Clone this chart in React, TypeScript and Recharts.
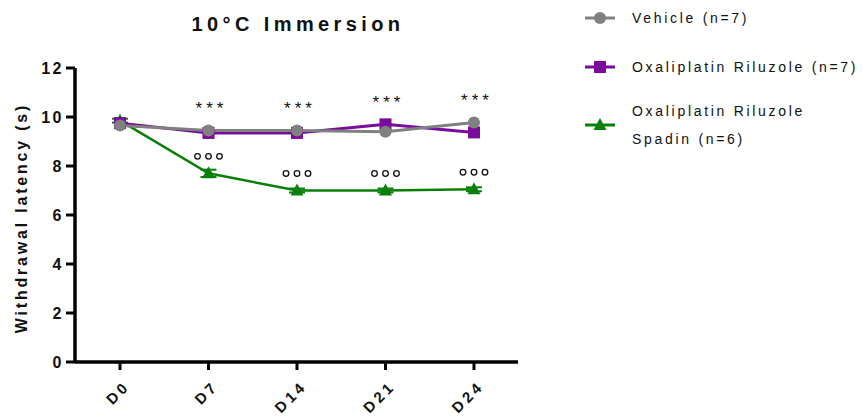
import React from 'react';
import { LineChart, Line, XAxis, YAxis, ErrorBar } from 'recharts';

// values
const days = ['D0', 'D7', 'D14', 'D21', 'D24'];
const vehicle = [9.65, 9.45, 9.45, 9.4, 9.78];
const oxaRiluzole = [9.75, 9.35, 9.35, 9.7, 9.37];
const oxaRiluzoleSpadin = [9.85, 7.7, 7.0, 7.0, 7.05];
const spadinSem = [0.08, 0.15, 0.08, 0.08, 0.08];
const starMarks = ['', '***', '***', '***', '***'];
const circleMarks = [0, 3, 3, 3, 3];
const yTicks = [0, 2, 4, 6, 8, 10, 12];

const GRAY = '#808080';
const PURPLE = '#7a0a9c';
const GREEN = '#088008';
const FONT = 'Arial, "Liberation Sans", sans-serif';

const data = days.map((d, i) => ({
 day: d,
 vehicle: vehicle[i],
 oxa: oxaRiluzole[i],
 spadin: oxaRiluzoleSpadin[i],
 spadinErr: spadinSem[i],
 top: Math.max(vehicle[i], oxaRiluzole[i]),
}));

const CircleDot = (props: any) => {
 const { cx, cy } = props;
 if (cx == null || cy == null) return null;
 return <circle cx={cx} cy={cy} r={6} fill={GRAY} />;
};

const SquareDot = (props: any) => {
 const { cx, cy } = props;
 if (cx == null || cy == null) return null;
 return <rect x={cx - 6} y={cy - 6} width={12} height={12} fill={PURPLE} />;
};

const TriangleDot = (props: any) => {
 const { cx, cy } = props;
 if (cx == null || cy == null) return null;
 return <polygon points={`${cx},${cy - 7} ${cx + 6.5},${cy + 5} ${cx - 6.5},${cy + 5}`} fill={GREEN} />;
};

const StarLabel = (props: any) => {
 const { x, y, index } = props;
 const txt = starMarks[index];
 if (!txt) return null;
 return (
 <text x={x + 3} y={y - 16} textAnchor="middle" fontFamily={FONT} fontSize={17} letterSpacing={4} fill="#111">
 {txt}
 </text>
 );
};

const CircleLabel = (props: any) => {
 const { x, y, index } = props;
 const n = circleMarks[index];
 if (!n) return null;
 const items = [];
 for (let k = 0; k < n; k++) {
 items.push(<circle key={k} cx={x - 11 + k * 11} cy={y - 17} r={2.8} fill="none" stroke="#111" strokeWidth={1.3} />);
 }
 return <g>{items}</g>;
};

const XTick = (props: any) => {
 const { x, y, payload } = props;
 const ax = x + 11;
 const ay = y + 15;
 return (
 <text
 x={ax}
 y={ay}
 transform={`rotate(-45, ${ax}, ${ay})`}
 textAnchor="end"
 fontFamily={FONT}
 fontWeight={700}
 fontSize={15}
 letterSpacing={3.5}
 fill="#111"
 >
 {payload.value}
 </text>
 );
};

const YTick = (props: any) => {
 const { x, y, payload } = props;
 return (
 <text x={x} y={y + 6} textAnchor="end" fontFamily={FONT} fontWeight={700} fontSize={16} letterSpacing={2.5} fill="#111">
 {payload.value}
 </text>
 );
};

const legendItems = [
 { label: ['Vehicle (n=7)'], color: GRAY, shape: 'circle', y: 18 },
 { label: ['Oxaliplatin Riluzole (n=7)'], color: PURPLE, shape: 'square', y: 67 },
 { label: ['Oxaliplatin Riluzole', 'Spadin (n=6)'], color: GREEN, shape: 'triangle', y: 125 },
];

const Legend = () => (
 <svg width={280} height={170} style={{ position: 'absolute', left: 583, top: 0 }}>
 {legendItems.map((it) => (
 <g key={it.label[0]}>
 <line x1={2} x2={32} y1={it.y} y2={it.y} stroke={it.color} strokeWidth={3} />
 {it.shape === 'circle' && <circle cx={17} cy={it.y} r={6} fill={it.color} />}
 {it.shape === 'square' && <rect x={11} y={it.y - 6} width={12} height={12} fill={it.color} />}
 {it.shape === 'triangle' && (
 <polygon points={`17,${it.y - 7} 23.5,${it.y + 5} 10.5,${it.y + 5}`} fill={it.color} />
 )}
 {it.label.map((t, k) => (
 <text
 key={t}
 x={49}
 y={it.y + 5 + (k - (it.label.length - 1) / 2) * 28}
 fontFamily={FONT}
 fontSize={14}
 letterSpacing={2.7}
 fill="#111"
 >
 {t}
 </text>
 ))}
 </g>
 ))}
 </svg>
);

export default function App() {
 return (
 <div style={{ position: 'absolute', left: 0, top: 0, width: 863, height: 417, background: '#fff' }}>
 <svg width={863} height={417} style={{ position: 'absolute', left: 0, top: 0 }}>
 <text x={298} y={31} textAnchor="middle" fontFamily={FONT} fontWeight={700} fontSize={20} letterSpacing={4.4} fill="#111">
 10°C Immersion
 </text>
 <text
 x={27}
 y={218}
 transform="rotate(-90, 27, 218)"
 textAnchor="middle"
 fontFamily={FONT}
 fontWeight={700}
 fontSize={16}
 letterSpacing={2.8}
 fill="#111"
 >
 Withdrawal latency (s)
 </text>
 </svg>
 <div style={{ position: 'absolute', left: 0, top: 0 }}>
 <LineChart width={863} height={417} data={data} margin={{ top: 68, right: 345, bottom: 0, left: 25 }}>
 <XAxis
 dataKey="day"
 padding={{ left: 45, right: 44 }}
 stroke="#000"
 axisLine={{ stroke: '#000', strokeWidth: 3.5 }}
 tickLine={{ stroke: '#000', strokeWidth: 3 }}
 tickSize={8}
 tick={<XTick />}
 height={55}
 interval={0}
 />
 <YAxis
 domain={[0, 12]}
 ticks={yTicks}
 width={50}
 stroke="#000"
 axisLine={{ stroke: '#000', strokeWidth: 3.5 }}
 tickLine={{ stroke: '#000', strokeWidth: 3 }}
 tickSize={9}
 tick={<YTick />}
 interval={0}
 />
 <Line
 dataKey="spadin"
 stroke={GREEN}
 strokeWidth={2.5}
 dot={<TriangleDot />}
 activeDot={false}
 isAnimationActive={false}
 label={<CircleLabel />}
 >
 <ErrorBar dataKey="spadinErr" width={8} stroke={GREEN} strokeWidth={2} />
 </Line>
 <Line dataKey="oxa" stroke={PURPLE} strokeWidth={3} dot={<SquareDot />} activeDot={false} isAnimationActive={false} />
 <Line dataKey="vehicle" stroke={GRAY} strokeWidth={3} dot={<CircleDot />} activeDot={false} isAnimationActive={false} />
 <Line dataKey="top" stroke="none" dot={false} activeDot={false} isAnimationActive={false} label={<StarLabel />} />
 </LineChart>
 </div>
 <Legend />
 </div>
 );
}
